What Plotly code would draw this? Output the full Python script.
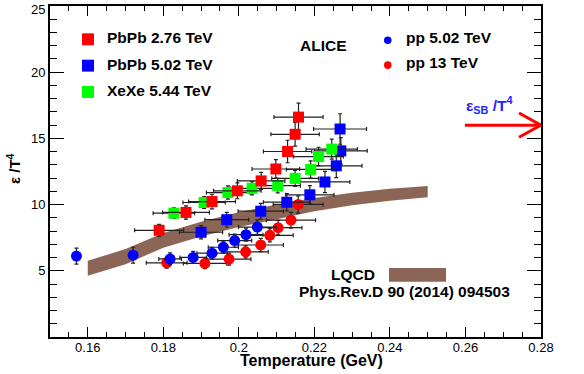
import plotly.graph_objects as go

# ---------------- data ----------------
T_pbpb276 = [0.1789, 0.1860, 0.1929, 0.1996, 0.2059, 0.2098, 0.2129, 0.2149, 0.2158]
E_pbpb276 = [8.06, 9.41, 10.23, 11.04, 11.79, 12.69, 14.01, 15.31, 16.61]
dT_pbpb276 = [0.0065, 0.0062, 0.0062, 0.0063, 0.0063, 0.0063, 0.0064, 0.0064, 0.0065]
dE_pbpb276 = [0.45, 0.5, 0.55, 0.6, 0.65, 0.7, 0.85, 0.9, 1.05]

T_pbpb502 = [0.1900, 0.1968, 0.2058, 0.2127, 0.2188, 0.2228, 0.2258, 0.2270, 0.2268]
E_pbpb502 = [7.91, 8.86, 9.50, 10.18, 10.74, 11.71, 12.93, 14.06, 15.71]
dT_pbpb502 = [0.0057, 0.0058, 0.006, 0.0062, 0.0064, 0.0066, 0.0068, 0.007, 0.007]
dE_pbpb502 = [0.5, 0.55, 0.6, 0.65, 0.7, 0.8, 0.9, 1.0, 1.15]

T_xexe544 = [0.1828, 0.1908, 0.1971, 0.2035, 0.2103, 0.2149, 0.2190, 0.2211, 0.2246]
E_xexe544 = [9.35, 10.16, 10.91, 11.23, 11.43, 11.98, 12.66, 13.63, 14.19]
dT_xexe544 = [0.0055, 0.0056, 0.0057, 0.0058, 0.006, 0.0062, 0.0064, 0.0066, 0.0068]
dE_xexe544 = [0.4, 0.45, 0.5, 0.5, 0.55, 0.6, 0.65, 0.7, 0.75]

T_pp502 = [0.1570, 0.1720, 0.1818, 0.1879, 0.1929, 0.1959, 0.1989, 0.2019, 0.2049]
E_pp502 = [6.11, 6.18, 5.90, 6.01, 6.33, 6.78, 7.28, 7.73, 8.30]
dT_pp502 = [0.0, 0.0, 0.003, 0.0035, 0.004, 0.004, 0.0045, 0.0045, 0.005]
dE_pp502 = [0.6, 0.6, 0.45, 0.45, 0.45, 0.45, 0.5, 0.5, 0.55]

T_pp13 = [0.1809, 0.1910, 0.1974, 0.2018, 0.2058, 0.2082, 0.2104, 0.2138, 0.2157]
E_pp13 = [5.60, 5.56, 5.88, 6.43, 6.95, 7.68, 8.26, 8.82, 10.01]
dT_pp13 = [0.0054, 0.0057, 0.0058, 0.006, 0.006, 0.0062, 0.0063, 0.0065, 0.0066]
dE_pp13 = [0.4, 0.4, 0.45, 0.45, 0.5, 0.5, 0.55, 0.6, 0.65]

# LQCD band (HotQCD, Phys.Rev.D 90 (2014) 094503)
T_lqcd = [0.160, 0.170, 0.180, 0.190, 0.200, 0.210, 0.220, 0.230, 0.240, 0.250]
E_lqcd_low = [4.63, 5.50, 6.75, 7.60, 8.30, 8.90, 9.50, 9.95, 10.30, 10.56]
E_lqcd_high = [5.75, 6.65, 7.85, 8.70, 9.43, 10.00, 10.50, 10.90, 11.20, 11.41]

E_SB = 16.0
x_ticks = [0.16, 0.18, 0.20, 0.22, 0.24, 0.26, 0.28]
x_ticktext = ["0.16", "0.18", "0.2", "0.22", "0.24", "0.26", "0.28"]
y_ticks = [5, 10, 15, 20, 25]
y_ticktext = ["5", "10", "15", "20", ""]

# ---------------- figure ----------------
FONT = "Liberation Sans, Arial, Helvetica, sans-serif"
BROWN = "#8b6656"
RED, BLUE, GREEN = "#ff0000", "#0000ff", "#00ff00"

# frame in pixels
L, R, TOP, BOT = 50, 541, 4, 337
X0, X1, Y0, Y1 = 0.15, 0.28, 0.0, 25.0


def px(xp, yp):
    """pixel position -> data coordinates (for annotation placement)"""
    return (X0 + (xp - L) / (R - L) * (X1 - X0), Y1 - (yp - TOP) / (BOT - TOP) * (Y1 - Y0))


def pp(xp, yp):
    """pixel position -> paper coordinates"""
    return ((xp - L) / (R - L), (BOT - yp) / (BOT - TOP))


fig = go.Figure()

fig.add_trace(go.Scatter(
    x=T_lqcd + T_lqcd[::-1], y=E_lqcd_high + E_lqcd_low[::-1],
    fill="toself", fillcolor=BROWN, line=dict(width=0, color=BROWN),
    mode="lines", hoverinfo="skip", showlegend=False))


def add_series(T, E, dT, dE, color, symbol, size):
    fig.add_trace(go.Scatter(
        x=T, y=E, mode="markers",
        marker=dict(symbol=symbol, size=size, color=color, line=dict(width=0)),
        error_x=dict(type="data", array=dT, color="#222222", thickness=1.2, width=2),
        error_y=dict(type="data", array=dE, color="#222222", thickness=1.2, width=2),
        showlegend=False))


add_series(T_pp13, E_pp13, dT_pp13, dE_pp13, RED, "circle", 11)
add_series(T_pp502, E_pp502, dT_pp502, dE_pp502, BLUE, "circle", 11)
add_series(T_pbpb502, E_pbpb502, dT_pbpb502, dE_pbpb502, BLUE, "square", 11)
add_series(T_xexe544, E_xexe544, dT_xexe544, dE_xexe544, GREEN, "square", 11)
add_series(T_pbpb276, E_pbpb276, dT_pbpb276, dE_pbpb276, RED, "square", 11)

# invisible trace to carry the mirrored (top / right) tick axes
fig.add_trace(go.Scatter(x=[X0], y=[Y0], xaxis="x2", yaxis="y2", mode="markers",
                         marker=dict(opacity=0), hoverinfo="skip", showlegend=False))

shapes = []
annotations = []

# legend (left)
for (label, color, yp) in [("PbPb 2.76 TeV", RED, 37.5), ("PbPb 5.02 TeV", BLUE, 64),
                           ("XeXe 5.44 TeV", GREEN, 90.5)]:
    xa, ya = px(82, yp - 6)
    xb, yb = px(94, yp + 6)
    shapes.append(dict(type="rect", xref="x", yref="y", x0=xa, x1=xb, y0=yb, y1=ya,
                       fillcolor=color, line=dict(width=0)))
    tx, ty = px(105, yp - 1.5)
    annotations.append(dict(x=tx, y=ty, xref="x", yref="y", text="<b>%s</b>" % label,
                            showarrow=False, xanchor="left", yanchor="middle",
                            font=dict(family=FONT, size=15.5, color="black")))

# legend (right)
for (label, color, yp) in [("pp 5.02 TeV", BLUE, 38.5), ("pp 13 TeV", RED, 63.5)]:
    xa, ya = px(384, yp - 3.8)
    xb, yb = px(391.5, yp + 3.8)
    shapes.append(dict(type="circle", xref="x", yref="y", x0=xa, x1=xb, y0=yb, y1=ya,
                       fillcolor=color, line=dict(width=0)))
    tx, ty = px(404, yp - 2.5)
    annotations.append(dict(x=tx, y=ty, xref="x", yref="y", text="<b>%s</b>" % label,
                            showarrow=False, xanchor="left", yanchor="middle",
                            font=dict(family=FONT, size=15.5, color="black")))

# ALICE
ax_, ay_ = px(323, 44)
annotations.append(dict(x=ax_, y=ay_, xref="x", yref="y", text="<b>ALICE</b>",
                        showarrow=False, xanchor="center", yanchor="middle",
                        font=dict(family=FONT, size=15.5, color="black")))

# LQCD legend
lx, ly = px(377, 274.5)
annotations.append(dict(x=lx, y=ly, xref="x", yref="y", text="<b>LQCD</b>",
                        showarrow=False, xanchor="right", yanchor="middle",
                        font=dict(family=FONT, size=15.5, color="black")))
xa, ya = px(389, 267.5)
xb, yb = px(446, 281.5)
shapes.append(dict(type="rect", xref="x", yref="y", x0=xa, x1=xb, y0=yb, y1=ya,
                   fillcolor=BROWN, line=dict(width=0)))
rx, ry = px(297, 291)
annotations.append(dict(x=rx, y=ry, xref="x", yref="y",
                        text="<b>Phys.Rev.D 90 (2014) 094503</b>",
                        showarrow=False, xanchor="left", yanchor="middle",
                        font=dict(family=FONT, size=15.5, color="black")))

# SB arrow
x_start, _ = px(465, 124)
x_head, _ = px(519, 124)
dy = 12.2 * (Y1 - Y0) / (BOT - TOP)
shapes.append(dict(type="line", xref="x", yref="y", x0=x_start, x1=X1, y0=E_SB, y1=E_SB,
                   line=dict(color=RED, width=3)))
shapes.append(dict(type="line", xref="x", yref="y", x0=x_head, x1=X1, y0=E_SB + dy, y1=E_SB,
                   line=dict(color=RED, width=3)))
shapes.append(dict(type="line", xref="x", yref="y", x0=x_head, x1=X1, y0=E_SB - dy, y1=E_SB,
                   line=dict(color=RED, width=3)))
sx, sy = px(464, 104)
annotations.append(dict(x=sx, y=sy, xref="x", yref="y",
                        text="<b>\u03b5<sub>SB</sub> /T<sup>4</sup></b>",
                        showarrow=False, xanchor="left", yanchor="middle",
                        font=dict(family=FONT, size=15.5, color="#2222ff")))

# "25" label at the top of the y axis
tx25, ty25 = pp(47, 8)
annotations.append(dict(x=tx25, y=ty25, xref="paper", yref="paper", text="25",
                        showarrow=False, xanchor="right", yanchor="middle",
                        font=dict(family=FONT, size=13, color="black")))

# axis titles
tx, ty = pp(311, 361)
annotations.append(dict(x=tx, y=ty, xref="paper", yref="paper",
                        text="<b>Temperature (GeV)</b>", showarrow=False,
                        xanchor="center", yanchor="middle",
                        font=dict(family=FONT, size=16, color="black")))
tx, ty = pp(13, 168)
annotations.append(dict(x=tx, y=ty, xref="paper", yref="paper",
                        text="<b>\u03b5 /T<sup>4</sup></b>", showarrow=False, textangle=-90,
                        xanchor="center", yanchor="middle",
                        font=dict(family=FONT, size=15, color="black")))

xtick_common = dict(range=[X0, X1], tickvals=x_ticks,
                    ticks="inside", ticklen=10, tickwidth=1, tickcolor="black",
                    minor=dict(dtick=0.005, tick0=0.15, ticks="inside", ticklen=5,
                               tickcolor="black", tickwidth=1, showgrid=False),
                    showgrid=False, zeroline=False)
ytick_common = dict(range=[Y0, Y1], tickvals=y_ticks,
                    ticks="inside", ticklen=14, tickwidth=1, tickcolor="black",
                    minor=dict(dtick=1, tick0=0, ticks="inside", ticklen=7,
                               tickcolor="black", tickwidth=1, showgrid=False),
                    showgrid=False, zeroline=False)

fig.update_layout(
    width=584, height=374,
    margin=dict(l=L, r=584 - R, t=TOP, b=374 - BOT),
    paper_bgcolor="white", plot_bgcolor="white",
    shapes=shapes, annotations=annotations,
    showlegend=False,
    xaxis=dict(**xtick_common, ticktext=x_ticktext, ticklabelstandoff=-3,
               showline=True, linewidth=2, linecolor="black", mirror=True,
               tickfont=dict(family=FONT, size=13, color="black")),
    yaxis=dict(**ytick_common, ticktext=y_ticktext,
               showline=True, linewidth=2, linecolor="black", mirror=True,
               tickfont=dict(family=FONT, size=13, color="black")),
    xaxis2=dict(**xtick_common, overlaying="x", side="top", anchor="y",
                showticklabels=False, showline=False),
    yaxis2=dict(**ytick_common, overlaying="y", side="right", anchor="x",
                showticklabels=False, showline=False),
)

fig.write_html("out.html")
